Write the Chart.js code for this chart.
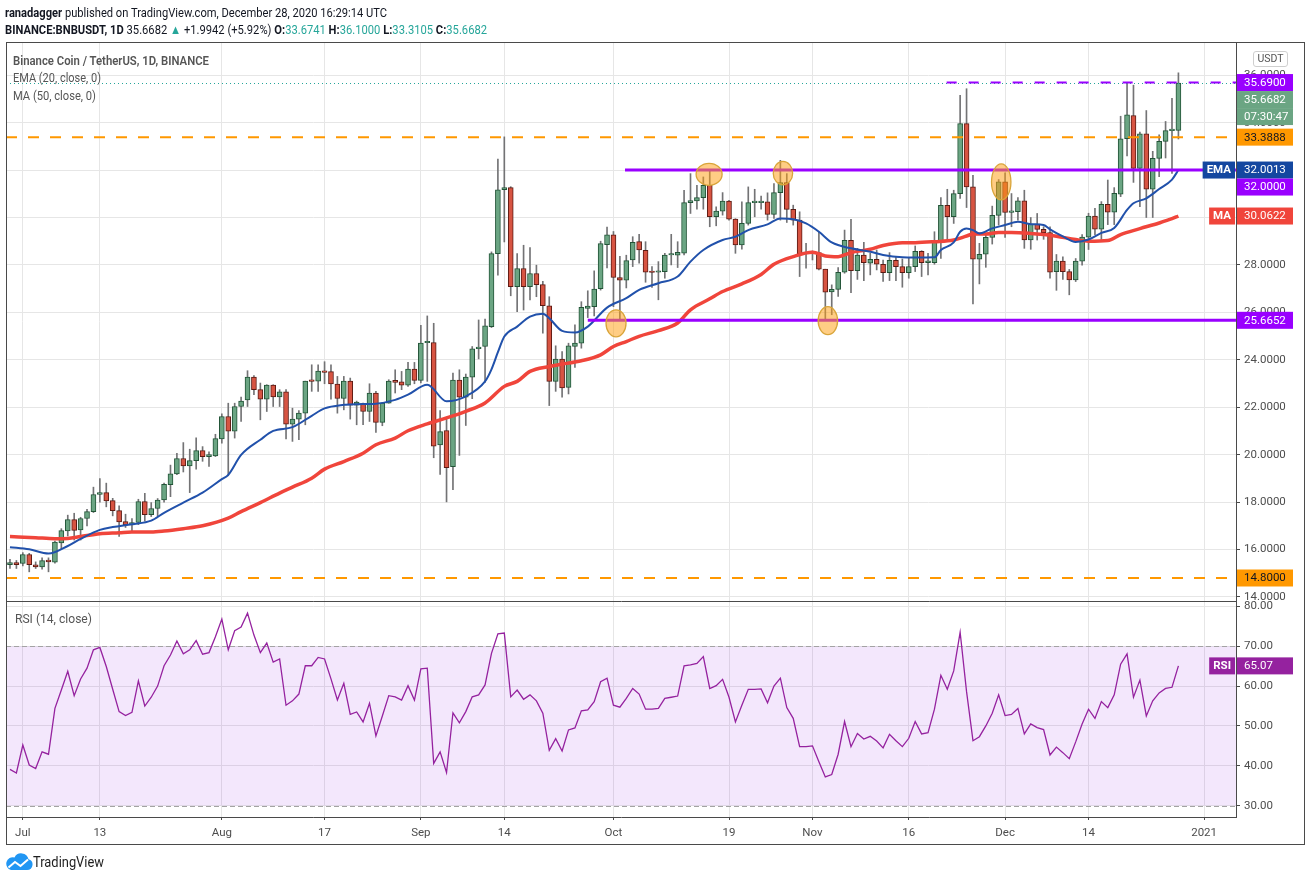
<!DOCTYPE html>
<html>
<head>
<meta charset="utf-8">
<script src="https://cdn.jsdelivr.net/npm/chart.js@4.4.1/dist/chart.umd.min.js"></script>
<style>
  body { margin: 0; width: 1311px; height: 881px; background: #fff; position: relative; overflow: hidden; font-family: Roboto, sans-serif; }
  canvas { position: absolute; left: 0; top: 0; }
  .t { position: absolute; white-space: nowrap; transform-origin: 0 50%; z-index: 2; }
  .v { color: #26a69a; }
  .frame { position: absolute; left: 6px; top: 42px; width: 1299px; height: 803px; box-sizing: border-box; border: 1px solid #4a4a4a; z-index: 1; }
  .lg { color: #555; font-size: 12.5px; }
</style>
</head>
<body>
<div class="frame"></div>
<canvas id="price" width="1311" height="881"></canvas>
<canvas id="rsi" width="1311" height="881"></canvas>

<div class="t" data-w="382" style="left:5px;top:4px;font-size:13px;line-height:17px;color:#131722"><b>ranadagger</b> published on TradingView.com, December 28, 2020 16:29:14 UTC</div>
<div class="t" data-w="482" style="left:5px;top:21px;font-size:13px;line-height:17px;color:#131722"><b>BINANCE:BNBUSDT, 1D</b> 35.6682 <span class="v">&#9650;</span> +1.9942 (+5.92%) <b>O:</b><span class="v">33.6741</span> <b>H:</b><span class="v">36.1000</span> <b>L:</b><span class="v">33.3105</span> <b>C:</b><span class="v">35.6682</span></div>

<div class="t lg" data-w="196" style="left:13px;top:52px;line-height:17px;font-weight:600">Binance Coin / TetherUS, 1D, BINANCE</div>
<div class="t lg" data-w="88" style="left:13px;top:69px;line-height:17px">EMA (20, close, 0)</div>
<div class="t lg" data-w="83" style="left:13px;top:87px;line-height:17px">MA (50, close, 0)</div>
<div class="t lg" data-w="77" style="left:15px;top:610px;line-height:17px">RSI (14, close)</div>

<div style="position:absolute;left:1253px;top:51px;width:35px;height:16px;box-sizing:border-box;border:1px solid #cfcfcf;border-radius:3px;background:#fff;z-index:3;font-size:10.5px;color:#555;text-align:center;line-height:14px">USDT</div>

<svg style="position:absolute;left:6px;top:852px;z-index:2" width="27" height="20" viewBox="0 0 27 20">
  <path d="M5 18 H21 A5.5 5.5 0 0 0 22.5 7.2 A7.5 7.5 0 0 0 8.5 5.5 A6.3 6.3 0 0 0 5 18 Z" fill="#2196f3"/>
  <polyline points="2.5,15.5 9,10 14.5,14 22,7.5" fill="none" stroke="#fff" stroke-width="2"/>
</svg>
<div class="t" data-w="71" style="left:33px;top:853px;font-size:15px;line-height:19px;color:#1e1e1e">TradingView</div>

<script>
// daily candles, first one is 2020-06-29, last one 2020-12-28
const opens = [
  15.36, 15.45, 15.41, 15.79, 15.36, 15.27, 15.56, 15.47, 16.28, 16.78,
  17.26, 16.83, 17.31, 17.60, 18.32, 18.40, 18.06, 17.64, 17.18, 17.04,
  17.14, 18.02, 17.47, 17.73, 18.09, 18.74, 19.19, 19.84, 19.53, 19.75,
  20.17, 19.92, 19.95, 20.66, 21.61, 20.99, 22.03, 22.31, 23.27, 22.74,
  22.34, 22.93, 22.43, 22.65, 21.29, 21.50, 21.75, 23.13, 23.10, 23.52,
  23.50, 22.98, 22.37, 23.10, 22.09, 22.15, 21.82, 22.60, 21.36, 22.17,
  23.13, 23.07, 22.93, 23.61, 23.13, 24.72, 24.73, 20.41, 21.02, 19.49,
  23.15, 22.42, 23.27, 24.47, 24.56, 25.40, 28.48, 31.17, 31.26, 27.08,
  27.85, 27.08, 27.64, 27.17, 26.28, 23.09, 24.03, 22.84, 24.56, 24.70,
  26.17, 26.24, 27.00, 28.85, 29.27, 27.47, 27.36, 28.21, 28.98, 28.62,
  27.72, 27.69, 27.72, 28.42, 28.41, 28.50, 30.63, 30.70, 30.84, 31.36,
  30.03, 30.27, 30.69, 29.93, 28.84, 29.75, 30.63, 30.63, 30.66, 30.13,
  31.05, 31.47, 30.34, 29.89, 28.48, 28.48, 28.52, 27.82, 26.86, 26.97,
  27.69, 29.04, 27.76, 28.42, 28.07, 28.24, 28.03, 27.67, 28.19, 27.93,
  27.67, 27.93, 28.57, 28.10, 28.10, 28.98, 30.51, 30.03, 31.01, 33.96,
  31.29, 28.24, 28.45, 29.16, 30.09, 31.50, 30.21, 30.25, 30.70, 29.05,
  29.72, 29.50, 29.36, 27.72, 28.16, 27.72, 27.37, 28.16, 29.17, 30.06,
  29.51, 30.56, 30.23, 30.98, 33.32, 34.30, 32.07, 33.53, 31.19, 32.49,
  33.21, 33.66, 33.6741
];
const highs = [
  15.59, 15.54, 15.87, 15.84, 15.48, 15.65, 15.65, 16.36, 16.88, 17.45,
  17.53, 17.36, 17.70, 18.63, 18.99, 18.80, 18.16, 17.84, 17.49, 17.31,
  18.12, 18.37, 17.98, 18.15, 18.80, 19.56, 20.06, 20.51, 20.23, 20.71,
  20.34, 20.12, 20.86, 21.72, 22.17, 22.17, 22.43, 23.54, 23.33, 23.02,
  22.95, 22.95, 22.74, 22.74, 21.96, 21.86, 23.10, 23.79, 23.79, 23.92,
  23.79, 23.30, 23.30, 23.23, 22.26, 22.17, 22.99, 22.67, 22.20, 23.16,
  23.58, 23.51, 23.89, 23.89, 25.45, 25.85, 25.54, 21.86, 21.55, 23.44,
  23.58, 23.40, 24.56, 25.68, 25.72, 28.55, 32.46, 33.40, 31.30, 28.48,
  28.83, 28.73, 27.99, 27.31, 26.66, 24.59, 24.35, 24.70, 25.47, 26.45,
  26.91, 27.75, 29.00, 29.60, 29.41, 28.36, 28.41, 29.19, 29.29, 28.98,
  27.93, 28.14, 28.49, 29.29, 28.98, 31.15, 31.85, 31.36, 31.71, 31.99,
  30.45, 31.05, 30.72, 29.95, 30.66, 31.29, 31.19, 30.90, 31.04, 31.43,
  32.41, 31.85, 30.52, 30.24, 28.91, 28.59, 29.37, 27.82, 27.16, 27.89,
  29.47, 29.92, 28.70, 28.95, 28.49, 28.63, 28.21, 28.52, 28.35, 28.25,
  28.28, 28.80, 28.60, 28.49, 29.40, 30.84, 31.19, 31.15, 35.15, 35.43,
  31.78, 28.91, 29.30, 30.48, 31.60, 31.88, 31.01, 30.84, 31.15, 30.00,
  30.17, 29.61, 29.61, 28.44, 28.34, 27.81, 28.27, 29.28, 30.18, 30.39,
  30.67, 31.58, 31.26, 34.27, 35.67, 35.58, 33.60, 34.51, 32.79, 33.49,
  34.05, 35.02, 36.10
];
const lows = [
  15.20, 15.20, 15.31, 15.06, 15.20, 15.17, 15.06, 15.42, 16.01, 16.57,
  16.40, 16.40, 17.00, 17.56, 18.00, 17.80, 17.42, 16.55, 16.93, 16.79,
  17.05, 17.20, 17.39, 17.42, 18.00, 18.23, 19.16, 19.27, 18.40, 19.39,
  19.72, 19.50, 19.92, 20.49, 19.11, 20.70, 21.40, 22.03, 22.53, 21.47,
  21.82, 22.03, 22.03, 20.66, 20.56, 20.63, 21.26, 22.67, 22.67, 22.99,
  22.34, 21.75, 21.89, 21.50, 21.26, 21.26, 21.40, 20.94, 21.22, 22.17,
  22.60, 22.74, 22.88, 22.99, 23.02, 23.09, 19.87, 19.17, 18.01, 18.52,
  19.97, 21.23, 22.36, 24.04, 23.05, 25.36, 27.57, 28.97, 26.70, 26.03,
  26.10, 26.52, 26.66, 25.12, 22.07, 22.67, 22.42, 22.56, 23.68, 24.49,
  25.78, 25.85, 26.94, 27.87, 26.24, 25.68, 27.03, 27.93, 28.07, 27.27,
  27.05, 26.53, 27.44, 28.00, 27.89, 28.42, 30.17, 30.35, 30.35, 29.61,
  29.65, 30.10, 29.89, 28.49, 28.67, 29.68, 30.03, 30.35, 29.89, 29.96,
  29.89, 29.79, 29.68, 27.51, 27.86, 28.21, 27.79, 25.69, 25.90, 26.67,
  27.65, 26.83, 27.39, 27.34, 27.58, 27.79, 27.30, 27.34, 27.34, 27.06,
  27.44, 27.72, 27.51, 27.58, 28.03, 28.28, 29.05, 29.75, 30.80, 30.42,
  26.36, 27.20, 27.90, 28.88, 29.68, 29.16, 29.61, 29.89, 28.70, 28.66,
  29.05, 29.08, 27.44, 26.93, 27.39, 26.74, 27.30, 27.99, 28.65, 29.28,
  29.07, 29.70, 29.70, 30.88, 32.60, 31.48, 30.46, 30.00, 30.00, 31.72,
  32.51, 31.86, 33.3105
];
const closes = [
  15.45, 15.36, 15.79, 15.36, 15.27, 15.53, 15.48, 16.31, 16.80, 17.26,
  16.81, 17.31, 17.60, 18.32, 18.40, 18.05, 17.64, 17.16, 17.04, 17.14,
  18.02, 17.47, 17.73, 18.09, 18.75, 19.19, 19.84, 19.53, 19.75, 20.17,
  19.92, 20.00, 20.68, 21.61, 20.99, 22.03, 22.26, 23.27, 22.74, 22.34,
  22.93, 22.43, 22.65, 21.29, 21.50, 21.75, 23.10, 23.09, 23.52, 23.47,
  22.98, 22.37, 23.10, 22.09, 22.22, 21.82, 22.60, 21.36, 22.17, 23.10,
  23.05, 22.93, 23.61, 23.13, 24.71, 24.75, 20.36, 20.97, 19.45, 23.15,
  22.42, 23.27, 24.46, 24.53, 25.43, 28.48, 31.17, 31.26, 27.08, 27.85,
  27.08, 27.64, 27.17, 26.28, 23.09, 24.03, 22.81, 24.59, 24.70, 26.21,
  26.27, 26.98, 28.90, 29.27, 27.47, 27.36, 28.18, 28.95, 28.63, 27.69,
  27.68, 27.75, 28.42, 28.48, 28.53, 30.63, 30.71, 30.84, 31.36, 30.03,
  30.27, 30.69, 29.93, 28.84, 29.75, 30.63, 30.66, 30.68, 30.13, 31.05,
  31.47, 30.34, 29.89, 28.48, 28.50, 28.52, 27.82, 26.85, 26.97, 27.69,
  29.04, 27.76, 28.42, 28.10, 28.24, 28.03, 27.67, 28.19, 27.93, 27.67,
  27.93, 28.57, 28.10, 28.17, 28.98, 30.51, 30.03, 31.01, 33.96, 31.29,
  28.24, 28.45, 29.16, 30.09, 31.50, 30.21, 30.28, 30.70, 29.05, 29.72,
  29.50, 29.36, 27.69, 28.16, 27.72, 27.37, 28.16, 29.17, 30.06, 29.51,
  30.56, 30.23, 31.02, 33.32, 34.33, 32.07, 33.53, 31.19, 32.49, 33.21,
  33.66, 33.67, 35.6682
];

// EMA 20 and MA 50 (day number, value)
const emaDays = [0, 3, 6, 9, 11, 14, 16, 19, 22, 24, 27, 30, 33, 34, 36, 39, 41, 44, 47, 49,
  52, 54, 57, 60, 62, 65, 68, 71, 74, 75, 76, 77, 79, 81, 83, 84, 86, 88, 90, 93,
  96, 98, 101, 104, 106, 108, 111, 113, 115, 118, 120, 122, 124, 126, 128, 131, 134, 136, 139, 141,
  144, 145, 147, 148, 149, 150, 151, 153, 155, 157, 159, 161, 162, 164, 166, 168, 170, 172, 174, 175,
  177, 179, 181, 182];
const emaValues = [16.10, 16.01, 15.83, 16.15, 16.45, 16.83, 16.95, 17.07, 17.22, 17.55, 17.98, 18.40, 18.97, 19.15, 19.99, 20.63, 21.00, 21.16, 21.64, 21.95,
  22.10, 22.13, 22.15, 22.31, 22.53, 22.95, 22.25, 22.46, 23.09, 23.60, 24.32, 24.98, 25.40, 25.82, 25.94, 25.75, 25.22, 25.15, 25.40, 26.20,
  26.60, 26.95, 27.23, 27.51, 28.14, 28.63, 29.05, 29.19, 29.47, 29.71, 29.96, 29.93, 29.75, 29.40, 28.95, 28.70, 28.56, 28.42, 28.32, 28.31,
  28.32, 28.63, 28.95, 29.40, 29.54, 29.47, 29.33, 29.54, 29.68, 29.82, 29.72, 29.68, 29.50, 29.20, 28.97, 29.07, 29.35, 29.56, 30.32, 30.60,
  30.81, 31.20, 31.60, 32.0013];
const maDays = [0, 4, 7, 9, 11, 14, 17, 19, 22, 24, 27, 30, 34, 36, 39, 42, 44, 47, 49, 52,
  55, 57, 60, 62, 65, 68, 71, 74, 77, 79, 81, 84, 86, 89, 92, 94, 96, 98, 101, 104,
  106, 109, 111, 114, 117, 119, 122, 125, 127, 129, 131, 134, 136, 139, 141, 144, 147, 149, 150, 152,
  154, 156, 159, 161, 163, 166, 168, 171, 173, 176, 179, 181, 182];
const maValues = [16.55, 16.50, 16.46, 16.47, 16.55, 16.67, 16.71, 16.74, 16.74, 16.78, 16.88, 17.00, 17.32, 17.60, 17.98, 18.38, 18.63, 19.01, 19.39, 19.71,
  20.06, 20.42, 20.70, 21.01, 21.30, 21.55, 21.83, 22.18, 22.88, 23.09, 23.51, 23.72, 23.82, 23.96, 24.21, 24.56, 24.77, 24.99, 25.23, 25.55,
  26.11, 26.57, 26.88, 27.20, 27.60, 28.03, 28.35, 28.53, 28.38, 28.35, 28.52, 28.66, 28.82, 28.94, 28.94, 28.98, 29.05, 29.22, 29.30, 29.30,
  29.37, 29.37, 29.33, 29.28, 29.21, 29.07, 29.00, 29.03, 29.28, 29.53, 29.77, 29.95, 30.0622];

// RSI 14, one value per candle
const rsiValues = [
  39.1, 38.2, 45.2, 40.2, 39.3, 43.5, 42.9, 54.4, 59.0, 63.7,
  57.6, 61.8, 64.5, 69.1, 69.7, 64.9, 59.2, 53.6, 52.6, 53.4,
  61.3, 55.0, 57.2, 60.0, 65.1, 67.8, 71.3, 68.1, 69.1, 71.4,
  68.0, 68.4, 72.4, 76.8, 69.1, 73.9, 74.8, 78.3, 72.8, 68.4,
  70.8, 66.0, 66.8, 55.2, 56.3, 58.0, 65.1, 65.1, 67.2, 66.8,
  61.8, 56.5, 60.7, 52.9, 53.5, 51.0, 55.7, 47.5, 52.5, 57.6,
  57.3, 56.5, 60.1, 56.5, 64.3, 64.5, 40.6, 43.5, 38.3, 53.3,
  50.8, 53.6, 57.3, 57.8, 60.3, 68.2, 73.1, 73.3, 57.3, 59.0,
  56.7, 57.8, 56.3, 53.2, 43.9, 46.8, 43.7, 49.0, 49.5, 53.8,
  54.0, 56.1, 61.1, 62.0, 55.2, 54.7, 56.9, 59.4, 58.0, 54.2,
  54.2, 54.4, 56.9, 57.2, 57.5, 65.1, 65.3, 65.7, 67.4, 59.4,
  60.1, 61.7, 57.2, 51.0, 55.2, 59.2, 59.2, 59.3, 55.8, 60.0,
  62.0, 54.6, 51.9, 44.8, 44.8, 45.0, 41.0, 37.2, 37.8, 42.9,
  51.1, 44.8, 48.1, 46.7, 47.4, 46.2, 44.5, 47.9, 46.3, 44.8,
  46.9, 51.1, 48.0, 48.3, 54.2, 62.7, 59.2, 63.8, 73.5, 58.6,
  46.3, 47.3, 50.0, 53.2, 57.8, 52.6, 52.9, 54.4, 48.0, 50.5,
  49.6, 49.1, 42.7, 44.7, 43.3, 41.8, 46.0, 50.5, 54.2, 51.9,
  56.1, 54.6, 57.8, 65.5, 68.1, 57.2, 61.5, 52.5, 56.3, 58.3,
  59.4, 59.7, 65.07
];

// axes
const tickDays = [2, 14, 33, 49, 64, 77, 94, 112, 125, 140, 155, 168, 186];
const tickLabels = ["Jul", "13", "Aug", "17", "Sep", "14", "Oct", "19", "Nov", "16", "Dec", "14", "2021"];
const priceTicks = [14, 16, 18, 20, 22, 24, 26, 28, 30, 32, 34, 36];
const rsiTicks = [30, 40, 50, 60, 70, 80];

// drawn levels and marked touches
const levelPrices = [33.3888, 14.80, 32.0, 25.6652, 35.69];
const levelStartDays = [null, null, 95.8, 90, 145.9];
const circleDays = [94.4, 108.9, 120.4, 127.4, 154.4];
const circlePrices = [25.54, 31.82, 31.87, 25.65, 31.5];
const lastPrice = 35.6682;
const countdown = "07:30:47";

// ---------- styles ----------
const UP = "#6ba583", UP_EDGE = "#225437", DOWN = "#d75442", DOWN_EDGE = "#5b1a13";
const PURPLE = "#9900ff", ORANGE = "#ff9800";
const EMA_COLOR = "#2151ab", MA_COLOR = "#f0453b", RSI_COLOR = "#95229f";
const GRID = "#e6e6e6", AXIS = "#4a4a4a", LABEL = "#4d4d4d";
const levelStyles = [
  { color: ORANGE, width: 2, dash: [11, 11] },
  { color: ORANGE, width: 2, dash: [11, 11] },
  { color: PURPLE, width: 3, dash: [] },
  { color: PURPLE, width: 3, dash: [] },
  { color: PURPLE, width: 2, dash: [10, 12] }
];
const circleRadii = [[10, 13.5], [13, 11], [9.7, 11.7], [9.7, 14], [9.7, 18]];
const X_MIN = -0.62, X_MAX = 190.97;

Chart.defaults.font.family = "Roboto";
const TAG_H = 17, TAG_W = 56;

function tag(ctx, axisLeft, yc, text, bg, fg, name) {
  ctx.fillStyle = bg;
  ctx.fillRect(axisLeft + 1, yc - TAG_H / 2, TAG_W, TAG_H);
  ctx.font = "11.5px Roboto";
  ctx.textAlign = "left";
  ctx.textBaseline = "middle";
  ctx.fillStyle = fg;
  ctx.fillText(text, axisLeft + 8, yc + 0.5);
  if (name) {
    ctx.font = "bold 11.5px Roboto";
    const w = ctx.measureText(name).width + 8;
    ctx.fillStyle = bg;
    ctx.fillRect(axisLeft - 1 - w, yc - TAG_H / 2, w, TAG_H);
    ctx.fillStyle = "#fff";
    ctx.fillText(name, axisLeft - 1 - w + 4, yc + 0.5);
  }
}

const priceOverlay = {
  id: "priceOverlay",
  afterDatasetsDraw(chart) {
    const { ctx, chartArea: a, scales: { x, y } } = chart;
    ctx.save();
    ctx.beginPath();
    ctx.rect(a.left, a.top, a.right - a.left, a.bottom - a.top);
    ctx.clip();
    // last price dotted line
    ctx.strokeStyle = "#26a69a";
    ctx.lineWidth = 1;
    ctx.setLineDash([1, 3]);
    const yl = Math.round(y.getPixelForValue(lastPrice)) + 0.5;
    ctx.beginPath(); ctx.moveTo(a.left, yl); ctx.lineTo(a.right, yl); ctx.stroke();
    // horizontal levels
    levelPrices.forEach((p, i) => {
      const s = levelStyles[i];
      const yp = y.getPixelForValue(p);
      const x0 = levelStartDays[i] === null ? a.left : x.getPixelForValue(levelStartDays[i]);
      ctx.strokeStyle = s.color;
      ctx.lineWidth = s.width;
      ctx.setLineDash(s.dash);
      ctx.beginPath(); ctx.moveTo(x0, yp); ctx.lineTo(a.right, yp); ctx.stroke();
    });
    ctx.setLineDash([]);
    // circles
    circleDays.forEach((d, i) => {
      const [rx, ry] = circleRadii[i];
      ctx.beginPath();
      ctx.ellipse(x.getPixelForValue(d), y.getPixelForValue(circlePrices[i]), rx, ry, 0, 0, Math.PI * 2);
      ctx.fillStyle = "rgba(255,160,20,0.52)";
      ctx.fill();
      ctx.strokeStyle = "#d9a53a";
      ctx.lineWidth = 1.3;
      ctx.stroke();
    });
    ctx.restore();
  },
  afterDraw(chart) {
    const { ctx, scales: { y } } = chart;
    const tags = [
      { v: 35.69, text: "35.6900", bg: PURPLE, fg: "#fff" },
      { v: lastPrice, text: lastPrice.toFixed(4), bg: UP, fg: "#fff" },
      { v: lastPrice, text: countdown, bg: UP, fg: "#fff" },
      { v: 33.3888, text: "33.3888", bg: ORANGE, fg: "#131722" },
      { v: emaValues[emaValues.length - 1], text: emaValues[emaValues.length - 1].toFixed(4), bg: "#1447a0", fg: "#fff", name: "EMA" },
      { v: 32.0, text: "32.0000", bg: PURPLE, fg: "#fff" },
      { v: maValues[maValues.length - 1], text: maValues[maValues.length - 1].toFixed(4), bg: MA_COLOR, fg: "#fff", name: "MA" },
      { v: 25.6652, text: "25.6652", bg: PURPLE, fg: "#fff" },
      { v: 14.80, text: "14.8000", bg: ORANGE, fg: "#131722" }
    ];
    let prev = -Infinity;
    ctx.save();
    tags.forEach(t => {
      let yc = y.getPixelForValue(t.v);
      if (yc < prev + TAG_H) yc = prev + TAG_H;
      prev = yc;
      tag(ctx, y.left, yc, t.text, t.bg, t.fg, t.name);
    });
    ctx.restore();
  }
};

const candleIdx = closes.map((c, i) => i);
const isUp = candleIdx.map(i => closes[i] >= opens[i]);

new Chart(document.getElementById("price"), {
  type: "bar",
  data: {
    datasets: [
      {
        type: "line",
        data: emaDays.map((d, k) => ({ x: d, y: emaValues[k] })),
        borderColor: EMA_COLOR, borderWidth: 2, pointRadius: 0,
        cubicInterpolationMode: "monotone", order: 1
      },
      {
        type: "line",
        data: maDays.map((d, k) => ({ x: d, y: maValues[k] })),
        borderColor: MA_COLOR, borderWidth: 3.5, pointRadius: 0,
        cubicInterpolationMode: "monotone", order: 1
      },
      {
        data: candleIdx.map(i => ({ x: i, y: [opens[i], closes[i]] })),
        backgroundColor: isUp.map(u => (u ? UP : DOWN)),
        borderColor: isUp.map(u => (u ? UP_EDGE : DOWN_EDGE)),
        borderWidth: 1, borderSkipped: false, barThickness: 5,
        minBarLength: 1.5, grouped: false, order: 2
      },
      {
        data: candleIdx.map(i => ({ x: i, y: [lows[i], highs[i]] })),
        backgroundColor: "#737375", barThickness: 1, grouped: false, order: 3
      }
    ]
  },
  options: {
    responsive: false,
    animation: false,
    layout: { padding: { left: 6, top: 42, right: 7, bottom: 280 } },
    plugins: { legend: { display: false }, tooltip: { enabled: false } },
    scales: {
      x: {
        type: "linear", min: X_MIN, max: X_MAX, offset: false,
        afterBuildTicks: s => { s.ticks = tickDays.map(v => ({ value: v })); },
        afterFit: s => { s.height = 0; },
        ticks: { display: false },
        grid: { color: GRID, drawTicks: false, offset: false },
        border: { display: true, color: AXIS }
      },
      y: {
        position: "right", min: 13.83, max: 37.4,
        afterBuildTicks: s => { s.ticks = priceTicks.map(v => ({ value: v })); },
        afterFit: s => { s.width = 68; },
        ticks: { callback: v => v.toFixed(4), color: LABEL, font: { size: 11.5 }, padding: 4 },
        grid: { color: GRID, tickLength: 4, tickColor: AXIS },
        border: { color: AXIS }
      }
    }
  },
  plugins: [priceOverlay]
});

const rsiOverlay = {
  id: "rsiOverlay",
  beforeDatasetsDraw(chart) {
    const { ctx, chartArea: a, scales: { y } } = chart;
    const y70 = y.getPixelForValue(70), y30 = y.getPixelForValue(30);
    ctx.save();
    ctx.fillStyle = "rgba(150,40,225,0.11)";
    ctx.fillRect(a.left, y70, a.right - a.left, y30 - y70);
    ctx.strokeStyle = "#a3a3a3";
    ctx.lineWidth = 1;
    ctx.setLineDash([5, 3]);
    [y70, y30].forEach(v => {
      const yy = Math.round(v) + 0.5;
      ctx.beginPath(); ctx.moveTo(a.left, yy); ctx.lineTo(a.right, yy); ctx.stroke();
    });
    ctx.restore();
  },
  afterDraw(chart) {
    const { ctx, scales: { y } } = chart;
    const last = rsiValues[rsiValues.length - 1];
    ctx.save();
    tag(ctx, y.left, y.getPixelForValue(last), last.toFixed(2), RSI_COLOR, "#fff", "RSI");
    ctx.restore();
  }
};

new Chart(document.getElementById("rsi"), {
  type: "line",
  data: {
    datasets: [{
      data: rsiValues.map((v, i) => ({ x: i, y: v })),
      borderColor: RSI_COLOR, borderWidth: 1.3, pointRadius: 0, tension: 0
    }]
  },
  options: {
    responsive: false,
    animation: false,
    layout: { padding: { left: 6, top: 602, right: 7, bottom: 37 } },
    plugins: { legend: { display: false }, tooltip: { enabled: false } },
    scales: {
      x: {
        type: "linear", min: X_MIN, max: X_MAX,
        afterBuildTicks: s => { s.ticks = tickDays.map(v => ({ value: v })); },
        afterFit: s => { s.height = 27; },
        ticks: {
          callback: v => tickLabels[tickDays.indexOf(v)],
          color: LABEL, font: { size: 11.5 }, padding: 6,
          autoSkip: false, maxRotation: 0
        },
        grid: { color: GRID, tickLength: 3, tickColor: AXIS },
        border: { color: AXIS }
      },
      y: {
        position: "right", min: 27.15, max: 81.1,
        afterBuildTicks: s => { s.ticks = rsiTicks.map(v => ({ value: v })); },
        afterFit: s => { s.width = 68; },
        ticks: { callback: v => v.toFixed(2), color: LABEL, font: { size: 11.5 }, padding: 4 },
        grid: { color: GRID, tickLength: 4, tickColor: AXIS },
        border: { color: AXIS }
      }
    }
  },
  plugins: [rsiOverlay]
});

// squeeze html texts to the widths they have in the screenshot
function fitTexts() {
  document.querySelectorAll("[data-w]").forEach(el => {
    el.style.transform = "none";
    const w = el.getBoundingClientRect().width;
    if (w > 0) el.style.transform = "scaleX(" + (el.dataset.w / w) + ")";
  });
}
fitTexts();
if (document.fonts) document.fonts.ready.then(fitTexts);
</script>
</body>
</html>
